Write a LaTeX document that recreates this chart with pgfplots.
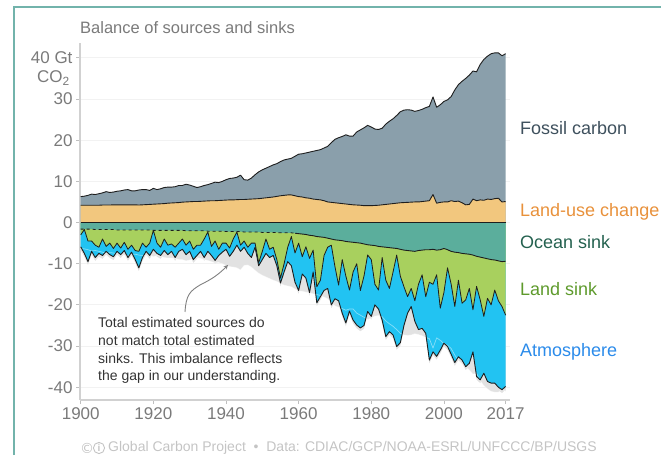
\documentclass[border=0pt]{standalone}
\usepackage{pgfplots}
\pgfplotsset{compat=1.18}
\usepackage{pgfplotstable}
\usepackage{fontspec}
\setmainfont{Liberation Sans}
\newfontfamily\dejavu{DejaVu Sans}

\definecolor{fossil}{HTML}{8A9FAB}
\definecolor{luc}{HTML}{F2C77E}
\definecolor{ocean}{HTML}{5BAE9C}
\definecolor{land}{HTML}{A8D05E}
\definecolor{atmos}{HTML}{22C3F2}
\definecolor{imbal}{HTML}{E2E2E2}
\definecolor{tickgrey}{HTML}{7A7A7A}
\definecolor{framecol}{HTML}{72B3AB}
\definecolor{edge}{HTML}{1E1E1E}
\definecolor{labfossil}{HTML}{3E505D}
\definecolor{labluc}{HTML}{E8913B}
\definecolor{labocean}{HTML}{24614F}
\definecolor{labland}{HTML}{5E9A2C}
\definecolor{labatmos}{HTML}{2B8BEA}
\definecolor{notegrey}{HTML}{333333}
\definecolor{footgrey}{HTML}{C4C4C4}

% boundaries of the stacked areas, Gt CO2 per year
\pgfplotstableread{
year luc tot oc ld at
1900 4.20 6.3 -1.6 -3.0 -5.9
1901 4.20 6.4 -1.6 -1.7 -7.5
1902 4.20 6.6 -1.6 -4.5 -9.5
1903 4.20 6.9 -1.6 -4.5 -7.0
1904 4.20 6.8 -1.7 -5.5 -8.5
1905 4.20 7.0 -1.7 -6.0 -7.5
1906 4.25 7.2 -1.7 -4.0 -8.0
1907 4.25 7.5 -1.7 -5.8 -7.0
1908 4.25 7.3 -1.7 -5.0 -7.8
1909 4.30 7.4 -1.7 -6.3 -8.3
1910 4.30 7.6 -1.8 -5.0 -7.0
1911 4.30 7.7 -1.8 -6.2 -7.8
1912 4.30 7.9 -1.8 -4.8 -6.8
1913 4.30 8.0 -1.8 -6.5 -8.5
1914 4.30 7.7 -1.8 -5.5 -7.2
1915 4.30 7.7 -1.8 -6.8 -9.0
1916 4.25 7.9 -1.8 -7.0 -11.0
1917 4.30 8.0 -1.8 -5.0 -8.5
1918 4.35 8.0 -1.8 -6.0 -7.0
1919 4.40 7.8 -1.8 -5.0 -8.0
1920 4.45 8.3 -1.9 -1.9 -6.5
1921 4.50 8.0 -1.9 -5.0 -7.5
1922 4.55 8.2 -1.9 -6.0 -8.0
1923 4.60 8.5 -1.9 -4.0 -6.8
1924 4.70 8.6 -1.9 -5.5 -7.8
1925 4.75 8.6 -1.9 -5.2 -7.0
1926 4.80 8.7 -1.9 -6.0 -8.5
1927 4.85 9.0 -1.9 -5.0 -7.0
1928 4.95 9.0 -1.9 -4.0 -6.5
1929 5.00 9.3 -2.0 -5.5 -7.8
1930 5.05 9.1 -2.0 -4.5 -7.0
1931 5.10 8.8 -2.0 -6.5 -9.0
1932 5.10 8.5 -2.0 -5.5 -8.0
1933 5.15 8.7 -2.0 -5.5 -7.0
1934 5.20 9.0 -2.0 -4.0 -8.5
1935 5.25 9.2 -2.1 -2.3 -7.0
1936 5.30 9.5 -2.1 -5.8 -8.0
1937 5.30 9.8 -2.1 -4.5 -9.2
1938 5.35 9.7 -2.1 -6.5 -8.0
1939 5.40 10.0 -2.1 -5.0 -7.2
1940 5.45 10.4 -2.2 -5.0 -6.5
1941 5.50 10.7 -2.2 -6.2 -8.2
1942 5.50 10.8 -2.2 -4.0 -7.0
1943 5.55 11.0 -2.2 -2.3 -5.5
1944 5.60 11.5 -2.2 -5.5 -7.0
1945 5.60 10.4 -2.3 -4.5 -6.0
1946 5.65 10.3 -2.3 -6.0 -7.5
1947 5.70 10.8 -2.3 -5.0 -8.5
1948 5.75 11.6 -2.3 -5.0 -6.0
1949 5.80 12.3 -2.3 -9.8 -10.5
1950 5.90 12.8 -2.4 -7.0 -9.0
1951 6.00 13.2 -2.4 -4.0 -7.5
1952 6.10 13.6 -2.4 -6.5 -8.5
1953 6.20 14.0 -2.4 -6.0 -8.0
1954 6.35 14.3 -2.4 -9.0 -10.5
1955 6.50 14.8 -2.5 -13.5 -14.7
1956 6.60 15.2 -2.5 -10.0 -12.0
1957 6.70 15.4 -2.5 -6.0 -9.5
1958 6.70 15.6 -2.5 -3.4 -10.5
1959 6.50 16.1 -2.6 -7.4 -14.5
1960 6.30 16.6 -2.7 -5.0 -16.5
1961 6.20 16.7 -2.8 -8.3 -12.5
1962 6.00 16.9 -2.9 -5.9 -13.5
1963 5.90 17.1 -3.1 -8.7 -17.0
1964 5.70 17.3 -3.2 -6.7 -12.0
1965 5.60 17.5 -3.4 -15.6 -19.5
1966 5.50 17.7 -3.5 -14.0 -18.0
1967 5.30 18.1 -3.6 -8.0 -16.5
1968 5.00 18.5 -3.8 -6.0 -16.0
1969 4.90 19.4 -4.0 -5.5 -20.0
1970 4.80 20.2 -4.2 -10.7 -18.5
1971 4.70 20.6 -4.3 -15.2 -19.0
1972 4.60 20.9 -4.4 -9.0 -22.0
1973 4.50 21.3 -4.6 -13.0 -24.4
1974 4.40 21.0 -4.7 -16.4 -21.5
1975 4.30 21.0 -4.8 -12.0 -23.7
1976 4.25 22.0 -4.9 -10.0 -24.9
1977 4.20 22.5 -5.0 -16.5 -25.6
1978 4.10 23.0 -5.2 -13.0 -25.0
1979 4.10 23.6 -5.4 -7.9 -21.6
1980 4.10 23.2 -5.5 -9.0 -22.8
1981 4.15 22.7 -5.6 -15.0 -20.0
1982 4.20 22.6 -5.8 -16.4 -21.0
1983 4.30 22.9 -5.9 -8.5 -23.7
1984 4.40 23.9 -6.0 -14.0 -27.7
1985 4.50 24.6 -6.1 -16.0 -26.5
1986 4.60 25.2 -6.2 -12.0 -27.3
1987 4.70 26.0 -6.3 -7.9 -30.1
1988 4.80 26.9 -6.5 -13.0 -29.2
1989 4.85 27.3 -6.7 -15.6 -25.0
1990 4.90 27.4 -6.8 -18.0 -22.0
1991 4.95 27.3 -6.9 -16.0 -20.4
1992 5.00 27.0 -7.0 -19.0 -24.0
1993 5.00 27.2 -6.8 -15.0 -26.0
1994 5.10 27.5 -6.7 -12.7 -25.7
1995 5.20 27.9 -6.6 -18.0 -26.9
1996 5.30 28.2 -6.6 -14.5 -33.4
1997 6.80 30.5 -6.5 -15.0 -31.4
1998 4.70 28.0 -6.7 -12.7 -32.5
1999 4.90 28.6 -6.6 -20.8 -31.0
2000 5.00 29.4 -6.3 -17.0 -29.3
2001 5.00 29.8 -6.6 -11.0 -30.1
2002 5.30 30.6 -7.0 -15.0 -32.0
2003 5.10 32.2 -7.2 -20.4 -34.0
2004 5.20 33.5 -7.3 -14.0 -32.6
2005 4.80 34.3 -7.5 -19.6 -33.4
2006 4.30 35.0 -7.6 -18.8 -35.0
2007 4.40 35.8 -7.7 -16.0 -34.2
2008 5.70 36.8 -7.9 -21.2 -31.4
2009 5.30 36.6 -8.2 -15.5 -37.4
2010 5.50 38.4 -8.4 -18.8 -38.2
2011 5.40 39.6 -8.6 -22.8 -36.6
2012 5.70 40.4 -8.8 -18.4 -38.6
2013 5.60 41.0 -9.0 -20.0 -39.0
2014 5.80 41.2 -9.1 -16.4 -39.0
2015 5.90 41.2 -9.3 -19.0 -40.0
2016 5.00 40.5 -9.5 -20.4 -40.6
2017 5.10 41.0 -9.4 -22.5 -39.8
}\budget

\begin{document}
\begin{tikzpicture}[x=1pt,y=1pt]
\path[use as bounding box] (0,0) rectangle (661,455);
\draw[framecol, line width=1.6pt] (14,0) -- (14,448) -- (661,448);

\begin{axis}[
    at={(80pt,55pt)}, anchor=south west,
    scale only axis, width=430pt, height=357pt,
    xmin=1899.8, xmax=2018.2, ymin=-43.1, ymax=43.6,
    axis x line*=bottom, axis y line*=left,
    axis line style={-, draw=black!18, line width=1.6pt},
    xtick={1900,1920,1940,1960,1980,2000,2017},
    xticklabels={1900,1920,1940,1960,1980,2000,2017},
    ytick={-40,-30,...,40},
    yticklabels={-40,-30,-20,-10,0,10,20,30,40 Gt},
    tick align=outside, major tick length=4pt,
    tick style={draw=black!25, line width=0.8pt},
    ticklabel style={text=tickgrey, font=\fontsize{17}{17}\selectfont},
    ymajorgrids, grid style={draw=black!5, line width=0.8pt},
    line join=round,
]
% imbalance (grey) behind the sinks
\addplot[fill=imbal, draw=none] table[x=year, y expr=-\thisrow{tot}] {\budget} \closedcycle;
\addplot[fill=imbal, draw=none] table[x=year, y expr=\thisrow{at}-0.8] {\budget} \closedcycle;
% sinks
\addplot[fill=atmos, draw=none] table[x=year, y=at] {\budget} \closedcycle;
\addplot[fill=land, draw=none] table[x=year, y=ld] {\budget} \closedcycle;
\addplot[fill=ocean, draw=none] table[x=year, y=oc] {\budget} \closedcycle;
% sources
\addplot[fill=fossil, draw=none] table[x=year, y=tot] {\budget} \closedcycle;
\addplot[fill=luc, draw=none] table[x=year, y=luc] {\budget} \closedcycle;
% mirror of total sources
\addplot[white, opacity=0.45, line width=0.7pt] table[x=year, y expr=-\thisrow{tot}] {\budget};
% outlines
\addplot[edge, line width=0.9pt] table[x=year, y=tot] {\budget};
\addplot[edge, line width=0.9pt] table[x=year, y=luc] {\budget};
\addplot[edge, line width=0.9pt] coordinates {(1900,0) (2017,0)};
\addplot[edge, line width=0.8pt, dashed, restrict x to domain=1900:1959] table[x=year, y=oc] {\budget};
\addplot[edge, line width=0.9pt, restrict x to domain=1959:2017] table[x=year, y=oc] {\budget};
\addplot[edge, line width=0.8pt] table[x=year, y=ld] {\budget};
\addplot[edge, line width=0.9pt] table[x=year, y=at] {\budget};
\end{axis}

\node[anchor=east, text=tickgrey, font=\fontsize{17}{17}\selectfont, inner sep=0] at (70,377) {CO\textsubscript{2}};
\node[anchor=west, text=tickgrey, font=\fontsize{16.5}{16.5}\selectfont, inner sep=0] at (80,427) {Balance of sources and sinks};

\begin{scope}[font=\fontsize{18}{18}\selectfont, inner sep=0]
\node[anchor=west, text=labfossil] at (520,327) {Fossil carbon};
\node[anchor=west, text=labluc] at (520,243) {Land-use change};
\node[anchor=west, text=labocean] at (520,213) {Ocean sink};
\node[anchor=west, text=labland] at (520,166) {Land sink};
\node[anchor=west, text=labatmos] at (520,103) {Atmosphere};
\end{scope}

\node[anchor=north west, align=left, inner sep=0, text=notegrey,
      font=\fontsize{14}{17.7}\selectfont] at (98,137.5)
  {Total estimated sources do\\not match total estimated\\sinks. This imbalance reflects\\the gap in our understanding.};
\draw[-stealth, black!50, line width=0.9pt]
  (185,143) .. controls (186,160) and (190,164) .. (200,170)
  .. controls (212,176) and (218,180) .. (228,190);

% footer: licence icons and source line
\node[anchor=west, inner sep=0, text=footgrey, font=\dejavu\fontsize{14}{14}\selectfont] at (80,7) {©};
\draw[footgrey, line width=0.9pt] (99,7) circle (5.6);
\node[inner sep=0, text=footgrey, font=\fontsize{10}{10}\selectfont\bfseries] at (99,7) {i};
\node[anchor=west, inner sep=0, text=footgrey, font=\fontsize{14}{14}\selectfont] at (108,7)
  {Global Carbon Project \ • \ Data: CDIAC/GCP/NOAA-ESRL/UNFCCC/BP/USGS};
\end{tikzpicture}
\end{document}
